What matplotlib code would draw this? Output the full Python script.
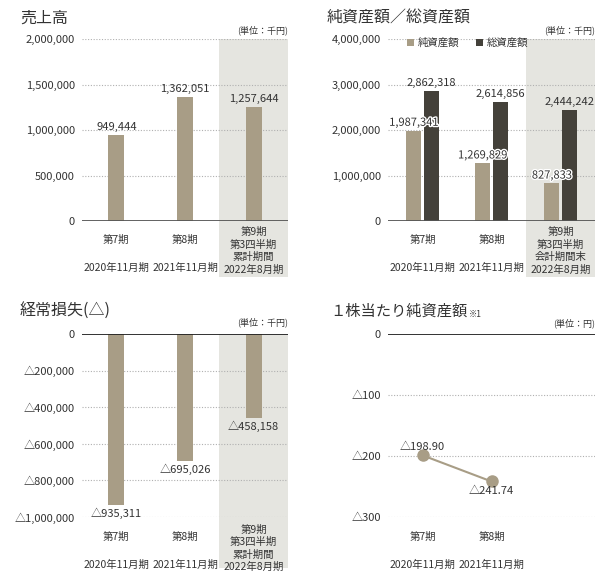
import matplotlib
matplotlib.use("Agg")
import matplotlib.pyplot as plt
import matplotlib.patheffects as pe
from matplotlib.patches import Rectangle

plt.rcParams["font.family"] = ["Noto Sans CJK JP", "DejaVu Sans"]
plt.rcParams["text.color"] = "#333333"

# ── Data ──
periods = ["第7期", "第8期"]
fy_labels = ["2020年11月期", "2021年11月期", "2022年8月期"]
q3_sales_label = "第9期\n第3四半期\n累計期間\n"
q3_assets_label = "第9期\n第3四半期\n会計期間末\n"

sales = [949444, 1362051, 1257644]
net_assets = [1987341, 1269829, 827833]
total_assets = [2862318, 2614856, 2444242]
ordinary_loss = [-935311, -695026, -458158]
bps = [-198.90, -241.74]

sales_ticks = [0, 500000, 1000000, 1500000, 2000000]
assets_ticks = [0, 1000000, 2000000, 3000000, 4000000]
loss_ticks = [0, -200000, -400000, -600000, -800000, -1000000]
bps_ticks = [0, -100, -200, -300]

TAN = "#a89d86"
DARK = "#44413a"
SHADE = "#e5e5e0"
GRID = "#b0b0b0"

W, H = 613, 580
fig = plt.figure(figsize=(W / 100, H / 100), dpi=100)


def px_axes(x0, y0, x1, y1):
    return fig.add_axes([x0 / W, 1 - y1 / H, (x1 - x0) / W, (y1 - y0) / H])


def fmt(v, dec=0):
    s = f"{abs(v):,.{dec}f}"
    return "△" + s if v < 0 else s


def setup(ax, ticks, ylim, dec=0):
    ax.set_xlim(-0.5, 2.5)
    ax.set_ylim(*ylim)
    ax.set_facecolor("none")
    for s in ax.spines.values():
        s.set_visible(False)
    ax.set_xticks([])
    ax.set_yticks(ticks)
    ax.set_yticklabels([fmt(t, dec) for t in ticks], fontsize=8, color="#333333")
    ax.tick_params(axis="y", length=0, pad=5)
    for t in ticks:
        if t == 0:
            continue
        ax.axhline(t, color=GRID, lw=0.8, ls=(0, (1, 1.5)), zorder=1)
    ax.axhline(0, color="#222222" if ylim[1] == 0 else "#555555", lw=1.3, zorder=3)


def shade(ax, bottom_frac):
    ax.add_patch(Rectangle((1.5, bottom_frac), 1.0, 1 - bottom_frac,
                           transform=ax.get_xaxis_transform(), clip_on=False,
                           facecolor=SHADE, edgecolor="none", zorder=0))


def cat_labels(ax, y_period, y_fy, q3_label, n=3):
    tr = ax.get_xaxis_transform()
    for i in range(min(n, 2)):
        ax.text(i, y_period, periods[i], transform=tr, ha="center", va="center", fontsize=7.5)
        ax.text(i, y_fy, fy_labels[i], transform=tr, ha="center", va="center", fontsize=7.5)
    if n == 3:
        ax.text(2, y_fy - 0.03, q3_label + fy_labels[2], transform=tr,
                ha="center", va="baseline", fontsize=7.5, linespacing=1.3)


def unit(x, y, s):
    fig.text(x / W, 1 - y / H, s, fontsize=6.5, ha="right", va="center")


# ── 売上高 ──
ax1 = px_axes(82, 39, 288, 221)
setup(ax1, sales_ticks, (0, 2000000))
shade(ax1, -0.31)
ax1.bar(range(3), sales, width=0.23, color=TAN, zorder=2)
for i, v in enumerate(sales):
    ax1.text(i, v + 30000, fmt(v), ha="center", va="bottom", fontsize=8)
cat_labels(ax1, -0.105, -0.255, q3_sales_label)
fig.text(20 / W, 1 - 18 / H, "売上高", fontsize=11.5, va="center")
unit(288, 30, "(単位：千円)")

# ── 純資産額／総資産額 ──
ax2 = px_axes(388, 39, 595, 221)
setup(ax2, assets_ticks, (0, 4000000))
shade(ax2, -0.31)
xs = list(range(3))
b1 = ax2.bar([x - 0.125 for x in xs], net_assets, width=0.22, color=TAN, zorder=2, label="純資産額")
b2 = ax2.bar([x + 0.125 for x in xs], total_assets, width=0.22, color=DARK, zorder=2, label="総資産額")
for i in xs:
    ax2.text(i - 0.125, net_assets[i] + 60000, fmt(net_assets[i]), ha="center", va="bottom",
             fontsize=8, zorder=4, path_effects=[pe.withStroke(linewidth=2, foreground="white")])
    ax2.text(i + 0.125, total_assets[i] + 60000, fmt(total_assets[i]), ha="center", va="bottom",
             fontsize=8, zorder=4)
cat_labels(ax2, -0.105, -0.255, q3_assets_label)
ax2.legend(handles=[b1, b2], loc="upper left", bbox_to_anchor=(0.07, 1.03), ncol=2,
           frameon=False, fontsize=7.5, handlelength=0.7, handleheight=0.7,
           handletextpad=0.35, columnspacing=1.6, borderaxespad=0)
fig.text(327 / W, 1 - 18 / H, "純資産額／総資産額", fontsize=11.5, va="center")
unit(595, 30, "(単位：千円)")

# ── 経常損失(△) ──
ax3 = px_axes(82, 334, 288, 517)
setup(ax3, loss_ticks, (-1000000, 0))
shade(ax3, -0.28)
ax3.bar(range(3), ordinary_loss, width=0.23, color=TAN, zorder=2)
for i, v in enumerate(ordinary_loss):
    ax3.text(i, v - 15000, fmt(v), ha="center", va="top", fontsize=8, zorder=4)
cat_labels(ax3, -0.11, -0.26, q3_sales_label)
fig.text(20 / W, 1 - 311 / H, "経常損失(△)", fontsize=11.5, va="center")
unit(288, 322, "(単位：千円)")

# ── 1株当たり純資産額 ──
ax4 = px_axes(388, 334, 595, 517)
setup(ax4, bps_ticks, (-300, 0))
ax4.plot(range(len(bps)), bps, color=TAN, lw=1.5, marker="o", markersize=8, zorder=3)
ax4.text(0, bps[0] + 6, fmt(bps[0], 2), ha="center", va="bottom", fontsize=8)
ax4.text(1, bps[1] - 7, fmt(bps[1], 2), ha="center", va="top", fontsize=8)
cat_labels(ax4, -0.11, -0.26, "", n=2)
title4 = fig.text(330 / W, 1 - 311 / H, "１株当たり純資産額", fontsize=11, va="center")
# small "※1" note right after the title
ax4.annotate("※1", xy=(1, 0.05), xycoords=title4, xytext=(1, 0), textcoords="offset points",
             fontsize=6, ha="left", va="bottom", annotation_clip=False)
unit(595, 323, "(単位：円)")

fig.savefig("out.png", dpi=100)
